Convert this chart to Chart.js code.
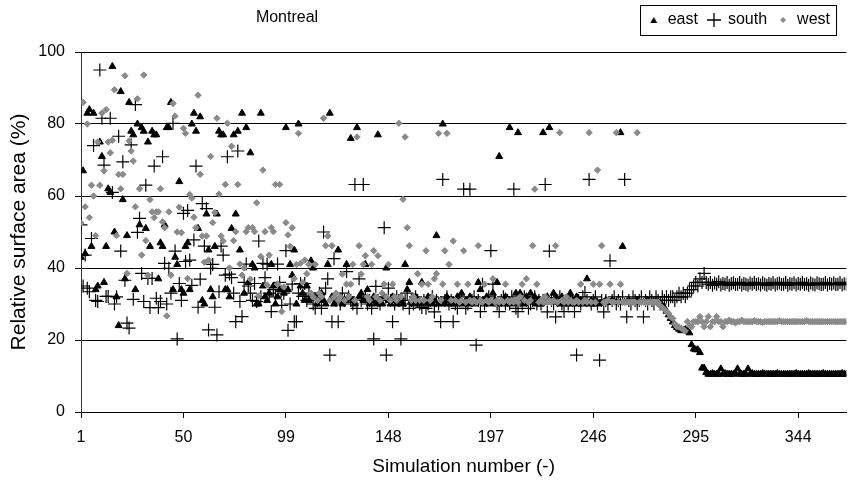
<!DOCTYPE html>
<html><head><meta charset="utf-8">
<script src="https://cdn.jsdelivr.net/npm/chart.js@4.4.1/dist/chart.umd.min.js"></script>
<style>html,body{margin:0;padding:0;background:#fff}#wrap{width:854px;height:485px;position:relative}</style>
</head><body><div id="wrap"><canvas id="c" width="854" height="485"></canvas></div>
<script>
const chartTitle = 'Montreal';
const seriesNames = ['east', 'south', 'west'];
const xAxisTitle = 'Simulation number (-)';
const yAxisTitle = 'Relative surface area (%)';
const xTickValues = [1, 50, 99, 148, 197, 246, 295, 344];
const yTickValues = [0, 20, 40, 60, 80, 100];

const eastValues = [
43,67,44,83,84,46,83,34,35,75,
71,36,46,62,61,96,50,32,24,89,
59,37,49,86,78,77,34,80,52,79,
78,51,75,46,78,77,77,37,47,46,
52,79,79,86,34,43,41,64,34,33,
46,47,34,80,83,78,51,82,31,30,
55,45,34,32,46,55,78,77,77,34,
34,32,51,77,55,78,45,83,33,79,
36,72,41,40,30,30,83,35,32,31,
33,41,35,30,32,34,34,33,79,34,
41,38,45,30,80,35,33,31,35,31,
42,40,32,30,31,33,31,30,41,83,
32,30,31,45,32,30,31,41,32,76,
31,30,79,32,33,31,41,34,30,31,
32,30,77,31,30,32,40,31,30,32,
31,30,31,32,30,41,34,36,31,30,
32,31,30,36,31,30,32,31,30,31,
49,30,31,80,30,32,31,30,31,30,
32,31,33,30,31,30,32,31,30,31,
36,34,31,30,32,31,30,33,31,36,
71,30,31,32,30,79,31,30,33,77.6,
33,31,30,32,31,33,31,32,30,31,
30,77.6,31,32,79,31,33,32,31,30,
32,31,30,31,33,30,31,32,30,31,
30,31,37,30,31,30,31,30,30.2,30.5,
30.5,31,30.5,30.5,31,30.5,30.5,30.5,77.6,46,
30.5,30.5,31,30.5,30.5,30.5,31,30.5,30.5,30.5,
30.5,31,30.5,30.5,30.5,30.5,30.5,30,29.5,29,
28,27,26,25,24,23.5,23,22.6,22.6,22.9,
22.6,22,18.7,17.5,17.3,17.3,16.5,12.2,12.2,11,
10.5,10.5,10.7,10.5,10.5,10.5,12,10.5,10.7,10.5,
10.5,10.5,10.5,10.7,12,10.5,10.5,10.5,10.5,12,
10.5,10.7,10.5,10.5,10.5,10.5,10.7,10.5,10.5,10.5,
10.5,10.5,10.5,10.7,10.5,10.5,10.5,10.5,10.5,10.5,
10.5,10.5,10.7,10.5,10.5,10.5,10.5,10.5,10.7,10.5,
10.5,10.5,10.5,10.5,10.5,10.7,10.5,10.5,10.5,10.5,
10.5,10.5,10.5,10.5,10.7,10.5,10.5
];

const southValues = [
52,35,43.6,34.4,33.4,48.2,74,31,30.7,95,
81.6,68.6,32.1,32.1,81.6,61,30,32,76.6,44.7,
69.5,36.6,24.7,23.3,74.2,31.3,85.4,49.9,53.8,38.5,
30.7,63,37.1,29,37.1,68.3,31.6,29,30.7,70.9,
41.3,30,39.9,33,80.2,44.7,20.3,35.7,31,55.2,
41.8,56,42.2,35.2,47.8,68.3,29.1,36.9,57.9,46.1,
56.5,22.8,39.9,41,29.1,21.4,33.4,46.1,43.6,38,
70.9,38.3,37.3,33,25.1,72.5,30.7,26.5,36,41.1,
35,33,31,35.7,30.7,47.5,32,41.3,37.3,41.1,
33,27.9,34,32,41.1,36,29.6,33,44.8,22.7,
30,35.5,25.1,25.1,33,35.7,32.1,35.7,31,33,
32.1,30,28.8,31,33,28.8,50,34.4,37,15.8,
25.1,42.6,31,25.1,30,33,31,39,32,31,
30,63.2,28.8,37,31,63.2,32,30,31,28.8,
20.3,34.9,31,30,32,51.2,15.8,34.4,31,25.1,
30,32,31,20.3,30,31,33,28.8,31,30,
32,31,30,29,31,28.8,30,31,32,27.8,
31,30,25.1,64.6,31,32,30,31,25.1,30,
28.8,31,32,61.9,28.8,30,61.9,31,32,18.6,
31,27.9,35.5,30,31,32,44.8,35.5,31,30,
27.9,31,32,30,31,30,32,61.9,28.8,27.9,
31,30,32,31,28.8,30,31,32,30,31,
30,31,63.2,27.8,44.7,31,30,26.4,31,32,
30,27.9,31,30,32,31,27.9,15.8,31,30,
32,33.2,31,64.6,30,31,32,30,14.4,31,
27.8,31,30,42,31,32,30,31,30,32,
64.6,26.4,31,30,32,31,30,31,32,26.4,
31,30,32,31,30,32,31,30,32,31,
32,31,32,32,31,32,33,32,33,32,
33,34,34,35,36,35,37,36,38.5,36,
35.5,36,35.2,35.8,35.5,36.2,35.3,35.7,35.5,36,
35.2,35.6,35.9,35.4,35.5,36,35.3,35.7,35.5,35.2,
35.8,35.5,36,35.4,35.6,35.3,35.9,35.5,35.2,35.7,
35.5,36,35.3,35.6,35.8,35.4,35.5,36,35.2,35.6,
35.5,35.9,35.3,35.7,35.5,36,35.4,35.6,35.2,35.8,
35.5,35.3,35.9,35.6,35.4,35.5,36,35.3,35.7,35.5,
35.8,35.4,35.5,36,35.3,35.6,35.5
];

const westValues = [
52.5,86,57,80,54,63,60,49,75,63,
83,67,84,75,72,75.5,89.5,49,66,62,
66,93.4,38.5,75.3,72.5,69.7,57,87,62,43.6,
93.6,47.6,38,59,55.6,54,55.6,55.6,62,52.8,
51.2,26.7,55.6,38,85.7,82.2,50,56.9,49.8,78.8,
77.4,37.1,60.4,59.4,54.1,51.2,88,66,48.9,41.6,
48.9,42.2,71,52.6,55.4,81.6,60.5,48.9,47.5,63.2,
80.2,40,73.8,47.6,50.1,63.2,41.1,38,40,50.1,
51.2,36.9,51.2,50.1,58.1,32.3,43.2,67.2,50.1,35.3,
43.6,51.2,50.1,63.2,35.5,63.2,27.9,34.7,52.6,49.2,
46,51.2,37,41,77.4,41.3,36,42.2,38.4,41,
33,32,41,31,33,32,81.6,46.2,48.9,31,
46.2,32,33,31,32,38.3,31,35.5,32,35.5,
41,31,76.4,46.2,38.3,41,43.4,32,31,41,
44.8,32,43.4,31,33,35.5,32,41,31,35.5,
32,31,80.2,32,59.1,76.4,51.2,46.2,31,32,
31,38.4,31,35.5,31,44.8,35.5,31,32,37,
38.4,77.4,31,35.5,44.8,77.4,41,31,47.5,31,
35.5,30.5,31,44.8,30.5,35.5,31,30.5,31,30.5,
46.2,31,30.5,35.5,31,30.5,31,37,30.5,31,
30.5,31,30.5,35.5,31,30.5,31,30.5,31,30.5,
32,35.5,31,37,30.5,31,46.2,61.9,35.5,30.5,
31,30.5,32,30.5,31,30.5,31,46.2,30.5,77.6,
31,30.5,32,30.5,31,30.5,30.5,31,30.5,35.5,
30.5,31,30.5,77.6,30.5,35.5,30.5,67.2,35.5,46.2,
30.5,30.5,31,35.5,30.5,30.5,77.6,30.5,35.5,30.5,
30.5,30.5,30.5,30.5,30.5,30.5,77.6,30.5,30.5,30.5,
30.5,30.5,30.5,30.5,30.5,30.5,30.5,29.5,29,28.5,
27.9,27.4,26.4,26,24.5,23.7,23.6,23.3,22.9,22.5,
25.1,24,23.7,25.1,25.1,25.1,26.5,25.1,23.7,25.1,
26.5,23.7,25.1,25.1,26.5,25.1,25.1,23.7,25.1,25.1,
25.5,25.1,25.1,24.8,25.1,25.1,25.5,25.1,25.1,25.1,
25.1,25.1,25.3,25.1,25.1,25.1,24.9,25.1,25.1,25.1,
25.1,25.1,25.1,25.1,25.3,25.1,25.1,25.1,25.1,25.1,
25.1,25.1,25.1,25.1,25.1,25.1,25.1,25.3,25.1,25.1,
25.1,25.1,25.1,25.1,25.1,25.1,25.1,25.1,25.1,25.1,
25.1,25.1,25.1,25.1,25.1,25.1,25.1
];

const FONT = "'Liberation Sans', Arial, sans-serif";
const toPoints = vals => vals.map((v, i) => ({ x: i + 1, y: v })).filter(p => p.y !== null);

function makeMarker(kind) {
  const c = document.createElement('canvas');
  c.width = 16; c.height = 16;
  const g = c.getContext('2d');
  if (kind === 'triangle') {
    g.fillStyle = '#000'; g.beginPath(); g.moveTo(8, 5); g.lineTo(11.5, 11); g.lineTo(4.5, 11); g.closePath(); g.fill();
  } else if (kind === 'cross') {
    g.strokeStyle = '#000'; g.lineWidth = 1.3; g.beginPath(); g.moveTo(1, 8); g.lineTo(15, 8); g.moveTo(8, 1); g.lineTo(8, 15); g.stroke();
  } else {
    g.fillStyle = '#8a8a8a'; g.beginPath(); g.moveTo(8, 5); g.lineTo(11, 8); g.lineTo(8, 11); g.lineTo(5, 8); g.closePath(); g.fill();
  }
  return c;
}
const legendMarkers = [makeMarker('triangle'), makeMarker('cross'), makeMarker('diamond')];

const framePlugin = {
  id: 'framePlugin',
  afterLayout(chart) {
    const lg = chart.legend;
    if (!lg) return;
    const dx = -12, dy = 2 - lg.top;
    lg.left += dx; lg.right += dx; lg.top += dy; lg.bottom += dy;
  },
  afterDraw(chart) {
    const ctx = chart.ctx, lg = chart.legend;
    const pad = lg.options.labels.padding;
    const x0 = lg.right - lg.lineWidths[0];
    const x1 = lg.right - pad;
    const cy = lg.top + pad + 8;
    ctx.save();
    ctx.strokeStyle = '#000'; ctx.lineWidth = 1;
    ctx.strokeRect(Math.round(x0 - 8) + 0.5, Math.round(cy - 15) + 0.5, Math.round(x1 - x0 + 14), 30);
    ctx.fillStyle = '#000';
    ctx.font = '16px ' + FONT;
    ctx.textAlign = 'center'; ctx.textBaseline = 'middle';
    ctx.fillText(chartTitle, 287, 18);
    ctx.restore();
  }
};

new Chart(document.getElementById('c'), {
  type: 'scatter',
  data: {
    datasets: [
      { label: seriesNames[0], data: toPoints(eastValues), pointStyle: 'triangle', pointRadius: 4, backgroundColor: '#000', borderColor: '#000', borderWidth: 1, order: 2 },
      { label: seriesNames[1], data: toPoints(southValues), pointStyle: 'cross', pointRadius: 6.5, backgroundColor: '#000', borderColor: '#000', borderWidth: 1.2, order: 1 },
      { label: seriesNames[2], data: toPoints(westValues), pointStyle: 'rectRot', pointRadius: 3.2, backgroundColor: '#8a8a8a', borderColor: '#8a8a8a', borderWidth: 1, order: 0 }
    ]
  },
  options: {
    responsive: false, maintainAspectRatio: false, animation: false, devicePixelRatio: 1,
    events: [],
    layout: { padding: { top: 16, right: 2, bottom: 0, left: 0 } },
    plugins: {
      tooltip: { enabled: false },
      title: { display: false },
      legend: {
        display: true, position: 'top', align: 'end',
        labels: {
          usePointStyle: true, boxWidth: 12, boxHeight: 12, padding: 10,
          color: '#000', font: { family: FONT, size: 16 },
          sort: (a, b) => a.datasetIndex - b.datasetIndex,
          generateLabels: chart => chart.data.datasets.map((ds, i) => ({
            text: ds.label, pointStyle: legendMarkers[i], fillStyle: '#000', strokeStyle: '#000',
            lineWidth: 0, hidden: false, datasetIndex: i, fontColor: '#000'
          }))
        }
      }
    },
    scales: {
      x: {
        type: 'linear', min: 1, max: 367,
        afterBuildTicks: s => { s.ticks = xTickValues.map(v => ({ value: v })); },
        afterFit: s => { s.height = 73; },
        grid: { drawOnChartArea: false, drawTicks: true, tickLength: 6, color: '#000', lineWidth: 1 },
        border: { display: true, color: '#000', width: 1 },
        ticks: { color: '#000', font: { family: FONT, size: 16 }, padding: 10, maxRotation: 0, autoSkip: false },
        title: { display: true, text: xAxisTitle, color: '#000', font: { family: FONT, size: 19 }, padding: { top: 0, bottom: 7 } }
      },
      y: {
        min: 0, max: 100,
        afterBuildTicks: s => { s.ticks = yTickValues.map(v => ({ value: v })); },
        afterFit: s => { s.width = 81; },
        grid: { color: '#000', lineWidth: 1, drawTicks: true, tickLength: 6 },
        border: { display: true, color: '#333', width: 1 },
        ticks: { color: '#000', font: { family: FONT, size: 16 }, padding: 10 },
        title: { display: true, text: yAxisTitle, color: '#000', font: { family: FONT, size: 21 }, padding: { top: 7, bottom: 0 } }
      }
    }
  },
  plugins: [framePlugin]
});
</script>
</body></html>
